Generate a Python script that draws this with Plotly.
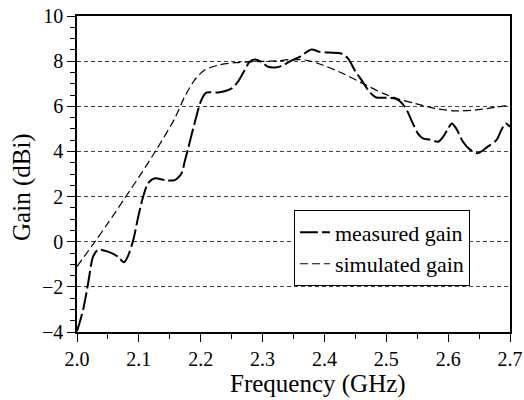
import plotly.graph_objects as go

# Measured gain (GHz, dBi)
meas_f = [2.000, 2.010, 2.018, 2.026, 2.034, 2.050, 2.066, 2.076, 2.082, 2.091, 2.099,
          2.107, 2.115, 2.126, 2.142, 2.158, 2.169, 2.174, 2.179, 2.190, 2.201, 2.209,
          2.228, 2.250, 2.260, 2.271, 2.279, 2.287, 2.298, 2.309, 2.320, 2.330, 2.345,
          2.360, 2.379, 2.392, 2.408, 2.427, 2.438, 2.449, 2.460, 2.473, 2.484, 2.500,
          2.516, 2.530, 2.543, 2.551, 2.559, 2.570, 2.584, 2.592, 2.600, 2.606, 2.613,
          2.624, 2.635, 2.648, 2.664, 2.678, 2.686, 2.693, 2.700]
meas_g = [-3.97, -3.0, -1.84, -0.66, -0.36, -0.44, -0.66, -0.91, -0.66, 0.08, 1.11,
          2.0, 2.59, 2.81, 2.73, 2.73, 3.03, 3.54, 4.06, 5.24, 6.27, 6.6,
          6.61, 6.79, 7.08, 7.6, 7.97, 8.07, 7.97, 7.75, 7.72, 7.78, 8.0,
          8.19, 8.52, 8.41, 8.38, 8.34, 8.12, 7.6, 7.16, 6.64, 6.39, 6.38,
          6.33, 5.98, 5.24, 4.80, 4.58, 4.53, 4.43, 4.65, 5.02, 5.24, 5.02,
          4.43, 4.09, 3.92, 4.21, 4.5, 4.95, 5.24, 5.09]

# Simulated gain (GHz, dBi)
sim_f = [2.000, 2.029, 2.050, 2.077, 2.104, 2.128, 2.158, 2.174, 2.190, 2.206, 2.228,
         2.255, 2.282, 2.320, 2.347, 2.371, 2.398, 2.430, 2.462, 2.495, 2.520, 2.546,
         2.578, 2.610, 2.643, 2.675, 2.700]
sim_g = [-1.1, 0.0, 0.82, 1.92, 3.03, 4.06, 5.46, 6.42, 7.16, 7.6, 7.82,
         7.93, 7.97, 8.01, 8.07, 8.04, 7.82, 7.45, 7.01, 6.57, 6.32, 6.13,
         5.91, 5.80, 5.83, 5.95, 6.05]

x_range = [2.0, 2.7]
y_range = [-4, 10]

FONT = "Liberation Serif"

fig = go.Figure()
fig.add_trace(go.Scatter(
    x=meas_f, y=meas_g, mode="lines", name="measured gain",
    line=dict(color="black", width=2, dash="18px,4px", shape="spline", smoothing=0.8),
))
fig.add_trace(go.Scatter(
    x=sim_f, y=sim_g, mode="lines", name="simulated gain",
    line=dict(color="black", width=1.2, dash="8px,4px", shape="spline", smoothing=0.8),
))

fig.update_layout(
    width=524, height=400,
    margin=dict(l=77, r=14, t=16, b=68),
    paper_bgcolor="white", plot_bgcolor="white",
    font=dict(family=FONT, size=20, color="black"),
    showlegend=True,
    legend=dict(
        x=0.501, y=0.385, xanchor="left", yanchor="top",
        bordercolor="black", borderwidth=1, bgcolor="white",
        font=dict(family=FONT, size=22, color="black"),
        tracegroupgap=0, itemwidth=30,
    ),
    xaxis=dict(
        range=x_range, tick0=2.0, dtick=0.1, tickformat=".1f", automargin=False,
        ticklabeloverflow="allow",
        showline=True, mirror=True, linecolor="black", linewidth=1.5,
        ticks="outside", ticklen=8, tickwidth=1.2, tickcolor="black",
        minor=dict(dtick=0.05, tick0=2.0, ticks="outside", ticklen=5, tickcolor="black", tickwidth=1.2),
        showgrid=False, zeroline=False,
        tickfont=dict(family=FONT, size=20, color="black"),
    ),
    yaxis=dict(
        range=y_range, tick0=0, dtick=2, automargin=False,
        ticklabeloverflow="allow",
        showline=True, mirror=True, linecolor="black", linewidth=1.5,
        ticks="outside", ticklen=8, tickwidth=1.2, tickcolor="black",
        minor=dict(dtick=0.5, tick0=0, ticks="outside", ticklen=5, tickcolor="black", tickwidth=1.2),
        showgrid=True, gridcolor="#444", gridwidth=1, griddash="4px,3px",
        zeroline=False,
        tickfont=dict(family=FONT, size=20, color="black"),
    ),
    annotations=[
        dict(text="Frequency (GHz)", xref="paper", yref="paper", x=0.556, y=-0.165,
             xanchor="center", yanchor="middle", showarrow=False,
             font=dict(family=FONT, size=25, color="black")),
        dict(text="Gain (dBi)", xref="paper", yref="paper", x=-0.127, y=0.459,
             xanchor="center", yanchor="middle", showarrow=False, textangle=-90,
             font=dict(family=FONT, size=25, color="black")),
    ],
)

# remove the browser's default 8px page margin so the figure sits at the window origin
fig.write_html("out.html", config={"displayModeBar": False},
               post_script="document.body.style.margin='0';")
